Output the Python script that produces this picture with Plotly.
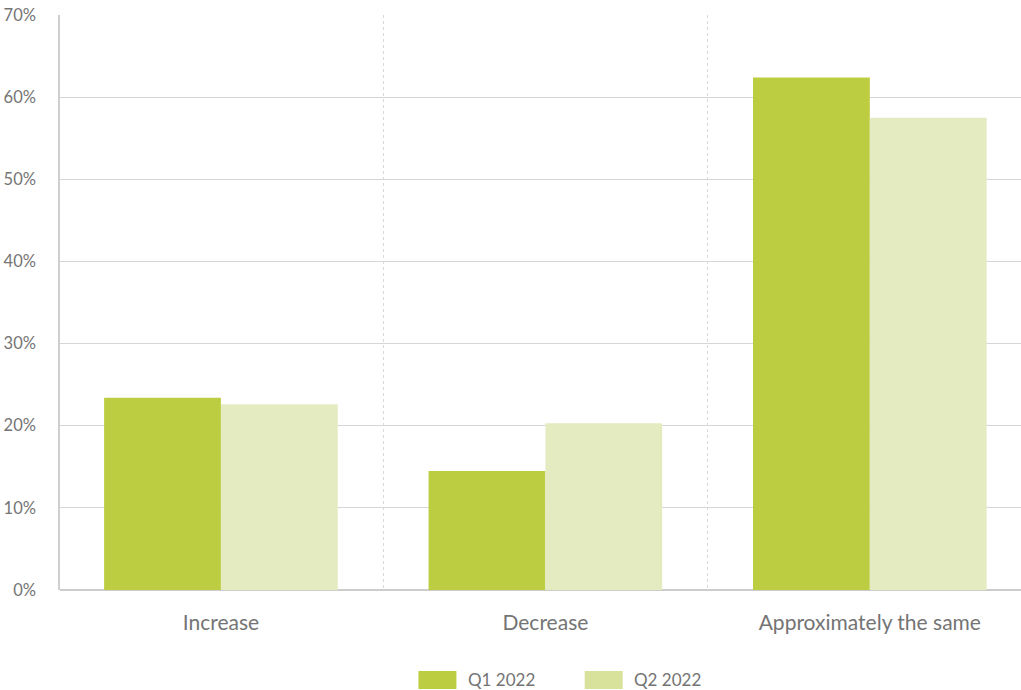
import plotly.graph_objects as go

categories = ["Increase", "Decrease", "Approximately the same"]
series_names = ["Q1 2022", "Q2 2022"]
q1_2022 = [23.4, 14.5, 62.4]
q2_2022 = [22.6, 20.3, 57.5]
y_ticks = [0, 10, 20, 30, 40, 50, 60, 70]
y_tick_labels = [f"{v}%" for v in y_ticks]

bar_colors = ["#BDCD41", "#E4EBC0"]
legend_colors = ["#BDCD41", "#D9E29A"]
text_color = "#747474"
font_family = "Lato, 'Open Sans', sans-serif"

fig = go.Figure()
for name, values, color in zip(series_names, [q1_2022, q2_2022], bar_colors):
    fig.add_trace(go.Bar(
        x=categories, y=values, name=name,
        marker=dict(color=color, line=dict(width=0)),
        showlegend=False,
    ))

# Legend drawn as wide swatches with labels below the plot
legend_x = [0.373, 0.546]
for name, color, lx in zip(series_names, legend_colors, legend_x):
    fig.add_shape(type="rect", xref="paper", yref="paper",
                  x0=lx, x1=lx + 0.0395, y0=-0.1722, y1=-0.1409,
                  fillcolor=color, line=dict(width=0))
    fig.add_annotation(x=lx + 0.049, y=-0.1565, xref="paper", yref="paper",
                       text=name, showarrow=False, xanchor="left", yanchor="middle",
                       font=dict(size=17, color=text_color, family=font_family))

fig.update_layout(
    width=1021, height=690,
    margin=dict(l=60, r=0, t=15, b=100),
    paper_bgcolor="white", plot_bgcolor="white",
    barmode="group", bargap=0.28, bargroupgap=0,
    font=dict(family=font_family, color=text_color, size=17),
    xaxis=dict(
        type="category", range=[-0.496, 2.466],
        tickson="boundaries", showgrid=True, gridcolor="#D9D9D9",
        griddash="dot", gridwidth=1,
        ticks="", ticklabelstandoff=18,
        showline=False, zeroline=False,
        tickfont=dict(size=21, color=text_color),
    ),
    yaxis=dict(
        range=[0, 70], tickvals=y_ticks, ticktext=y_tick_labels,
        showgrid=True, gridcolor="#D6D6D6", gridwidth=1,
        showline=True, linecolor="#CFCFCF", linewidth=1.5,
        zeroline=True, zerolinecolor="#CCCCCC", zerolinewidth=1.5,
        ticks="", ticklabelstandoff=19,
        tickfont=dict(size=16.5, color=text_color),
    ),
)

fig.write_html("out.html")
